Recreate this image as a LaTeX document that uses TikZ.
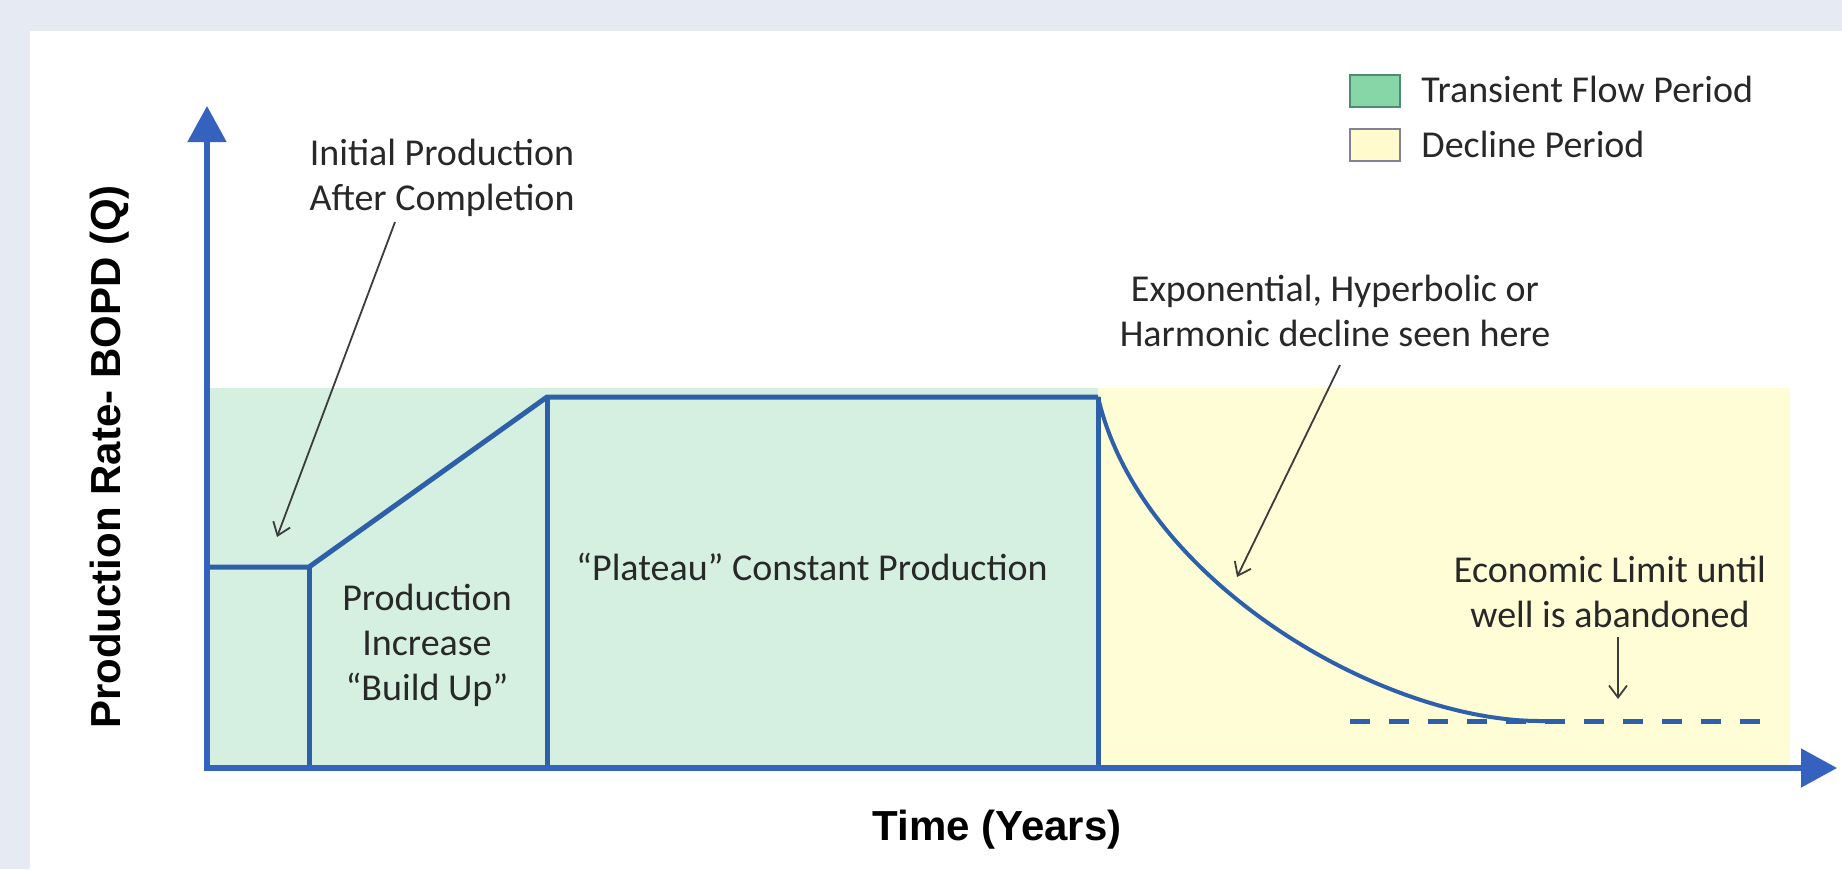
\documentclass[tikz,border=0pt]{standalone}
\usepackage{fontspec}
\setmainfont{Carlito}
\newfontfamily\axisfont{Liberation Sans}
\usetikzlibrary{arrows.meta}
\definecolor{bgband}{RGB}{230,234,242}
\definecolor{greenfill}{RGB}{213,240,225}
\definecolor{yellowfill}{RGB}{254,253,214}
\definecolor{axisblue}{RGB}{52,98,190}
\definecolor{lineblue}{RGB}{46,96,170}
\definecolor{txtgray}{RGB}{40,40,40}
\definecolor{leadgray}{RGB}{60,60,60}
\definecolor{leggreen}{RGB}{134,214,168}
\definecolor{leggreenb}{RGB}{80,140,115}
\definecolor{legyellow}{RGB}{255,251,204}
\definecolor{legyellowb}{RGB}{130,130,150}
\begin{document}
\begin{tikzpicture}[x=0.5pt,y=-0.5pt,
  lbl/.style={inner sep=0pt, text=txtgray, font=\fontsize{19}{22.5}\selectfont, align=center},
  axislbl/.style={inner sep=0pt, text=black, font=\axisfont\bfseries\fontsize{21}{25}\selectfont},
  axisline/.style={draw=axisblue, line width=2.6pt, -{Triangle[length=18pt,width=19pt]}},
  prodline/.style={draw=lineblue, line width=2.5pt, line join=miter},
  leader/.style={draw=leadgray, line width=0.9pt, -{Straight Barb[length=6pt,width=9pt]}},
  legbox/.style={line width=1pt, minimum width=25pt, minimum height=16pt, inner sep=0pt}]
\useasboundingbox (0,0) rectangle (1842,869);
% background
\fill[bgband] (0,0) rectangle (1842,869);
\fill[white] (30,31) rectangle (1842,869);
% periods
\fill[greenfill] (207,388) rectangle (1098,768);
\fill[yellowfill] (1098,388) rectangle (1790,768);
% production profile
\draw[prodline] (207,567) -- (309,567) -- (547,397) -- (1098,397);
\draw[prodline] (309,567) -- (309,768);
\draw[prodline] (547,397) -- (547,768);
\draw[prodline] (1098,397) -- (1098,768);
\draw[prodline] (207,768) -- (1098,768);
% decline curve
\draw[draw=lineblue, line width=2pt] (1098,397) .. controls (1140,580) and (1380,721) .. (1540,721) -- (1560,721);
% economic limit
\draw[draw=lineblue, line width=2.5pt, dash pattern=on 10pt off 9.5pt] (1350,721) -- (1772,721);
% axes
\coordinate (origin) at (207,768);
\coordinate (ytip) at (207,106);
\coordinate (xtip) at (1837,768);
\draw[axisline] (origin) -- (ytip);
\draw[axisline] ([xshift=-1.3pt]origin) -- (xtip);
% axis labels
\node[axislbl] (xlab) at (997,830) {Time (Years)};
\node[axislbl, rotate=90] (ylab) at (110,457) {Production Rate- BOPD (Q)};
% legend
\node[legbox, draw=leggreenb, fill=leggreen] (lg1) at (1375,91) {};
\node[legbox, draw=legyellowb, fill=legyellow] (lg2) at (1375,145) {};
\node[lbl, anchor=base west] (lt1) at (1421,102) {Transient Flow Period};
\node[lbl, anchor=base west] (lt2) at (1421,157) {Decline Period};
% labels
\node[lbl] (init) at (442,178) {Initial Production\\After Completion};
\node[lbl] (build) at (427,645) {Production\\Increase\\“Build Up”};
\node[lbl, anchor=base] (plat) at (812,580) {“Plateau” Constant Production};
\node[lbl] (expo) at (1335,311) {Exponential, Hyperbolic or\\Harmonic decline seen here};
\node[lbl] (econ) at (1610,592) {Economic Limit until\\well is abandoned};
% leaders
\coordinate (initfrom) at (395,222);
\coordinate (initto) at (277,537);
\coordinate (expofrom) at (1340,365);
\coordinate (expoto) at (1237,577);
\coordinate (econfrom) at (1618,637);
\coordinate (econto) at (1618,699);
\draw[leader] (initfrom) -- (initto);
\draw[leader] (expofrom) -- (expoto);
\draw[leader] (econfrom) -- (econto);
\end{tikzpicture}
\end{document}
